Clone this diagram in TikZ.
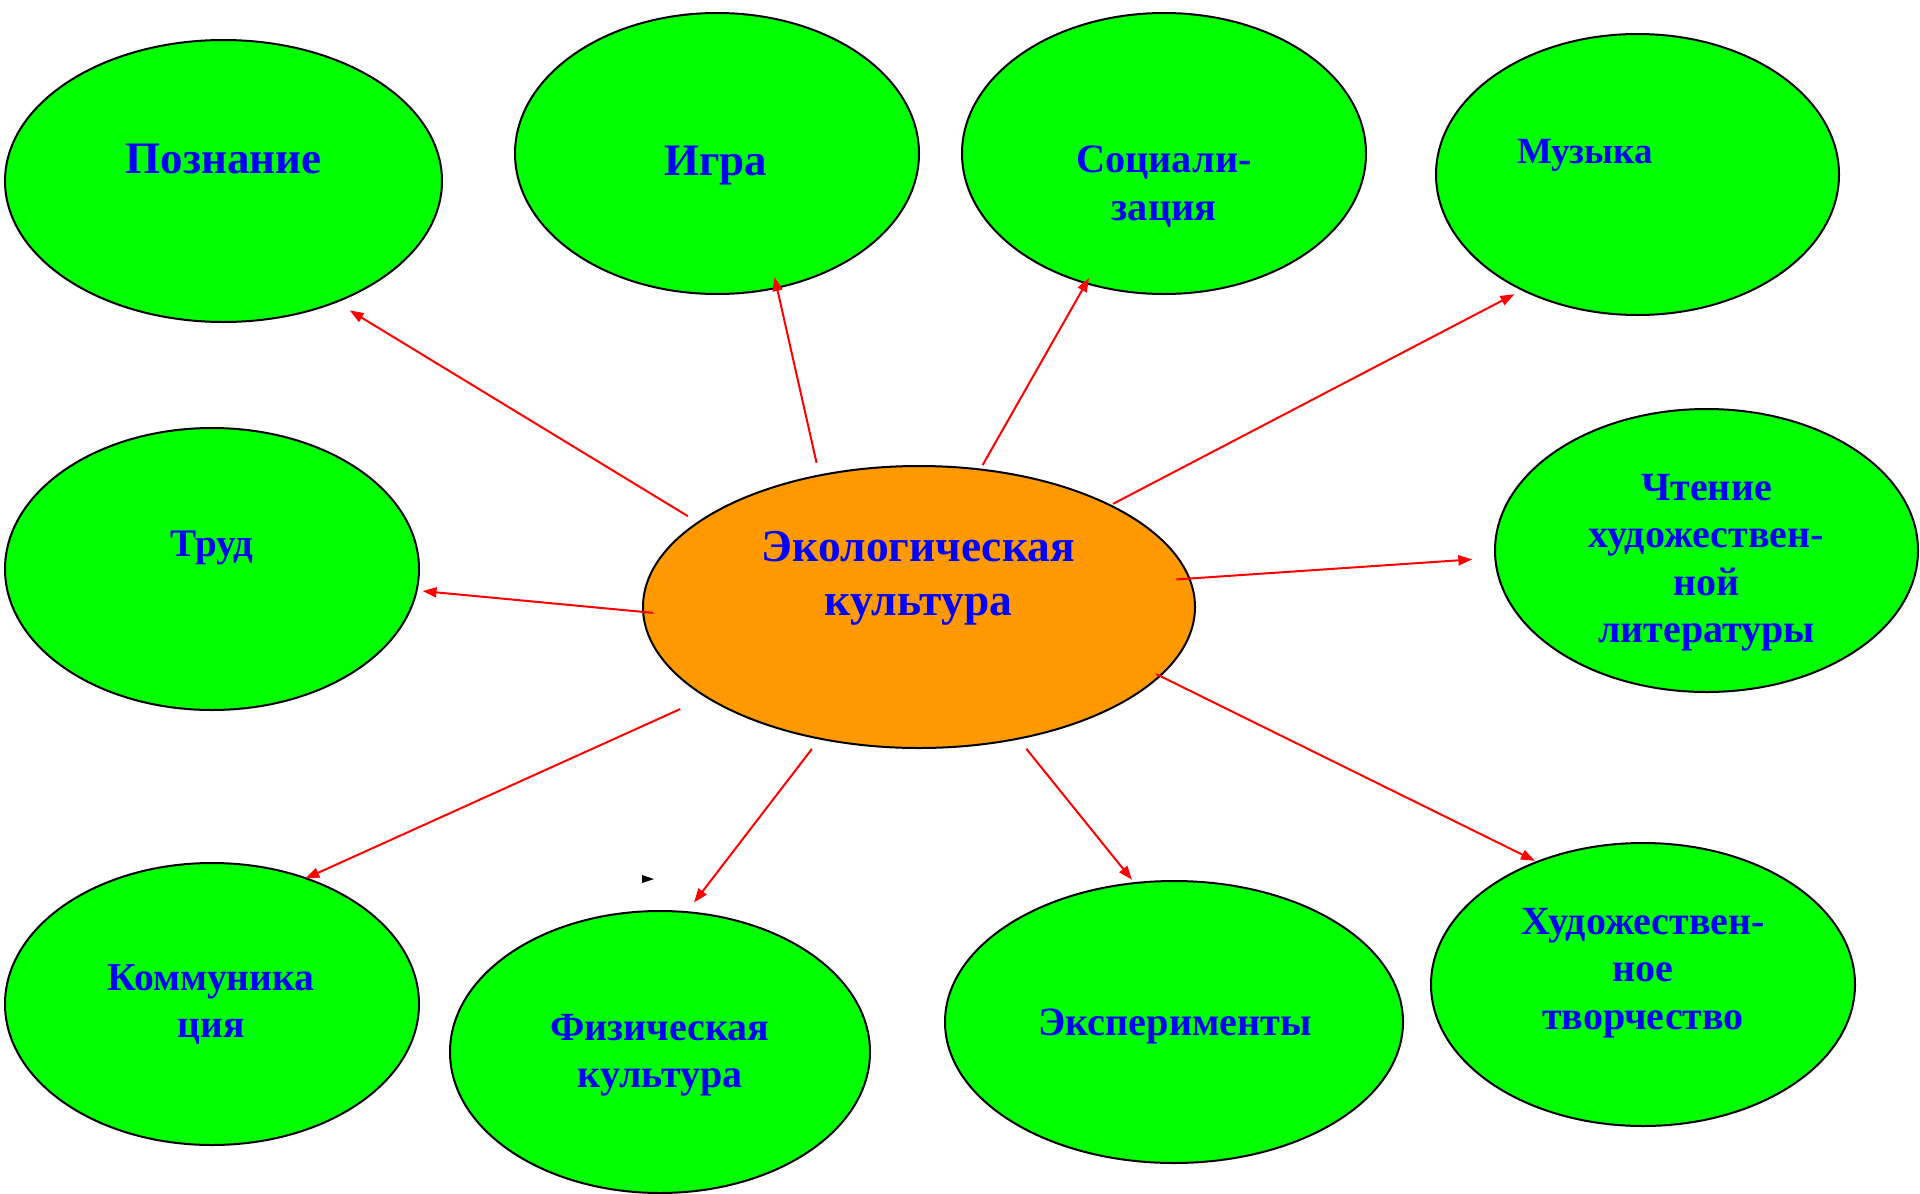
\documentclass[tikz,border=0pt]{standalone}
\usepackage{fontspec}
\setmainfont{Liberation Serif}
\usetikzlibrary{shapes.geometric,arrows.meta}
\definecolor{leaf}{RGB}{0,255,0}
\definecolor{amber}{RGB}{255,153,0}
\definecolor{ink}{RGB}{0,0,255}
\tikzset{
  oval/.style={ellipse,draw=black,line width=2pt,fill=leaf,inner sep=0pt},
  word/.style={text=ink,align=center,anchor=base,inner sep=0pt,
    font=\bfseries\fontsize{#1}{47.5}\selectfont},
  link/.style={-{Triangle[length=14pt,width=10pt]},draw=red,line width=2pt}
}
\begin{document}
\begin{tikzpicture}[x=1pt,y=-1pt]
  \useasboundingbox (0,0) rectangle (1920,1194);
  \draw
    (223.5,181) node[oval,minimum width=437pt,minimum height=282pt] (poz){}
    (717,153.5) node[oval,minimum width=404pt,minimum height=281pt] (igra){}
    (1164,153.5) node[oval,minimum width=404pt,minimum height=281pt] (soc){}
    (1637.5,174.5) node[oval,minimum width=403pt,minimum height=281pt] (muz){}
    (212,569) node[oval,minimum width=414pt,minimum height=282pt] (trud){}
    (919,607) node[oval,fill=amber,minimum width=552pt,minimum height=282pt] (eco){}
    (1706.5,550.5) node[oval,minimum width=423pt,minimum height=283pt] (cht){}
    (212,1004) node[oval,minimum width=414pt,minimum height=282pt] (kom){}
    (660,1052) node[oval,minimum width=420pt,minimum height=282pt] (fiz){}
    (1174,1022) node[oval,minimum width=458pt,minimum height=282pt] (eksp){}
    (1643,984.5) node[oval,minimum width=424pt,minimum height=283pt] (hud){};
  \node[word=45] (poz-t) at (223.5,173) {Познание};
  \node[word=45] (igra-t) at (716,175) {Игра};
  \node[word=40.3] (soc-t) at (1164,220.2) {Социали-\\зация};
  \node[word=37] (muz-t) at (1585,163.3) {Музыка};
  \node[word=39] (trud-t) at (212,556) {Труд};
  \node[word=45.5,font=\bfseries\fontsize{45.5}{53.3}\selectfont] (eco-t) at (918.5,615) {Экологическая\\культура};
  \node[word=40] (cht-t) at (1706.5,642.5) {Чтение\\художествен-\\ной\\литературы};
  \node[word=39.6] (kom-t) at (211,1037.5) {Коммуника\\ция};
  \node[word=40] (fiz-t) at (660,1087.5) {Физическая\\культура};
  \node[word=40.2] (eksp-t) at (1175,1035) {Эксперименты};
  \node[word=40] (hud-t) at (1643,1029) {Художествен-\\ное\\творчество};
  \begin{scope}[link]
    \draw[shorten <=11pt,shorten >=15pt] (eco.159.8) to (poz.-47.8);
    \draw[shorten <=12pt,shorten >=-12pt] (eco.127) to (igra.-66.9);
    \draw[shorten <=4pt,shorten >=-7pt] (eco.66.1) to (soc.-121.1);
    \draw[shorten <=2pt,shorten >=8pt] (eco.28.9) to (muz.-135.2);
    \draw[shorten <=-11pt,shorten >=5pt] (eco.181) to (trud.-6.8);
    \draw[shorten <=-14pt,shorten >=22pt] (eco.6.4) to (cht.182.3);
    \draw[shorten <=28pt,shorten >=-2pt] (eco.203.8) to (kom.53.6);
    \draw[shorten <=12pt,shorten >=11pt] (eco.-127) to (fiz.79.6);
    \draw[shorten <=12pt,shorten >=3pt] (eco.-53) to (eksp.106.7);
    \draw[shorten <=-5pt,shorten >=1pt] (eco.-16) to (hud.131.4);
  \end{scope}
  \fill (642,875) -- (654,879) -- (642,883) -- cycle;
\end{tikzpicture}
\end{document}
